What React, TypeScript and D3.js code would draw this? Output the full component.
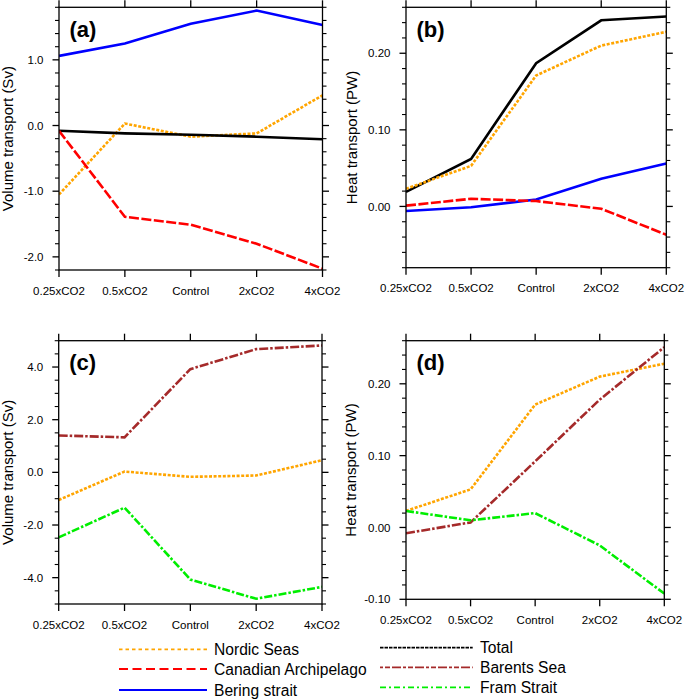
import React from "react";
import * as d3 from "d3";

const categories = ["0.25xCO2", "0.5xCO2", "Control", "2xCO2", "4xCO2"];

// Panel (a) volume transport (Sv)
const volNordic = [-1.05, 0.03, -0.17, -0.12, 0.46];
const volCanadian = [-0.08, -1.39, -1.51, -1.8, -2.18];
const volBering = [1.06, 1.25, 1.55, 1.75, 1.53];
const volTotal = [-0.08, -0.12, -0.14, -0.17, -0.21];

// Panel (b) heat transport (PW)
const heatNordic = [0.023, 0.053, 0.171, 0.21, 0.228];
const heatCanadian = [0.001, 0.01, 0.007, -0.003, -0.037];
const heatBering = [-0.006, -0.001, 0.009, 0.036, 0.056];
const heatTotal = [0.019, 0.062, 0.187, 0.243, 0.248];

// Panel (c) volume transport (Sv)
const volBarents = [1.4, 1.33, 3.92, 4.68, 4.82];
const volFram = [-2.47, -1.34, -4.07, -4.8, -4.35];

// Panel (d) heat transport (PW)
const heatBarents = [-0.008, 0.007, 0.092, 0.178, 0.251];
const heatFram = [0.023, 0.01, 0.02, -0.025, -0.092];

const ticksA = [-2, -1, 0, 1];
const ticksB = [0, 0.1, 0.2];
const ticksC = [-4, -2, 0, 2, 4];
const ticksD = [-0.1, 0, 0.1, 0.2];

const styles: Record<string, { color: string; dash: string; legendDash: string }> = {
  "Nordic Seas": { color: "#ffa500", dash: "3,1.6", legendDash: "3.5,3" },
  "Canadian Archipelago": { color: "#ff0000", dash: "10,2.5", legendDash: "9,4.5" },
  "Bering strait": { color: "#0000ff", dash: "none", legendDash: "none" },
  Total: { color: "#000000", dash: "none", legendDash: "3.5,1" },
  "Barents Sea": { color: "#a52a2a", dash: "9,2,2.5,2", legendDash: "3,2,5,2,9,2" },
  "Fram Strait": { color: "#00ee00", dash: "8,2,2.5,2", legendDash: "6,3,2,3" },
};

const FONT = "'Liberation Sans', Arial, Helvetica, sans-serif";

type Series = { name: string; values: number[] };

type PanelProps = {
  label: string;
  x0: number;
  x1: number;
  y0: number;
  y1: number;
  domain: [number, number];
  majors: number[];
  minorStep: number;
  fmt: (v: number) => string;
  title: string;
  titleX: number;
  series: Series[];
};

function Panel(p: PanelProps) {
  const x = d3.scalePoint<string>().domain(categories).range([p.x0, p.x1]);
  const y = d3.scaleLinear().domain(p.domain).range([p.y1, p.y0]);
  const minors = d3
    .range(Math.round((p.domain[1] - p.domain[0]) / p.minorStep) + 1)
    .map((i) => p.domain[0] + i * p.minorStep)
    .filter((v) => !p.majors.some((m) => Math.abs(m - v) < 1e-6));
  const line = d3
    .line<number>()
    .x((_, i) => x(categories[i]) as number)
    .y((d) => y(d));
  const yc = (p.y0 + p.y1) / 2;
  return (
    <g>
      <defs>
        <clipPath id={"clip" + p.label}>
          <rect x={p.x0} y={p.y0 - 2} width={p.x1 - p.x0} height={p.y1 - p.y0 + 4} />
        </clipPath>
      </defs>
      <g clipPath={`url(#clip${p.label})`}>
        {p.series.map((s) => (
          <path
            key={s.name}
            d={line(s.values) || ""}
            fill="none"
            stroke={styles[s.name].color}
            strokeWidth={2.6}
            strokeDasharray={styles[s.name].dash}
          />
        ))}
      </g>
      <rect x={p.x0} y={p.y0} width={p.x1 - p.x0} height={p.y1 - p.y0} fill="none" stroke="#000" strokeWidth={1.3} />
      {categories.map((c) => (
        <g key={c}>
          <line x1={x(c)} x2={x(c)} y1={p.y1} y2={p.y1 + 7} stroke="#000" strokeWidth={1.3} />
          <line x1={x(c)} x2={x(c)} y1={p.y0} y2={p.y0 - 7} stroke="#000" strokeWidth={1.3} />
          <text x={x(c)} y={p.y1 + 24.5} textAnchor="middle" fontSize={11.5} fontFamily={FONT}>
            {c}
          </text>
        </g>
      ))}
      {p.majors.map((v) => (
        <g key={"M" + v}>
          <line x1={p.x0 - 6.5} x2={p.x0} y1={y(v)} y2={y(v)} stroke="#000" strokeWidth={1.3} />
          <line x1={p.x1} x2={p.x1 + 6.5} y1={y(v)} y2={y(v)} stroke="#000" strokeWidth={1.3} />
          <text x={p.x0 - 15.5} y={y(v)} dy="0.36em" textAnchor="end" fontSize={11.5} fontFamily={FONT}>
            {p.fmt(v)}
          </text>
        </g>
      ))}
      {minors.map((v) => (
        <g key={"m" + v}>
          <line x1={p.x0 - 4} x2={p.x0} y1={y(v)} y2={y(v)} stroke="#000" strokeWidth={1.1} />
          <line x1={p.x1} x2={p.x1 + 4} y1={y(v)} y2={y(v)} stroke="#000" strokeWidth={1.1} />
        </g>
      ))}
      <text
        transform={`translate(${p.titleX},${yc}) rotate(-90)`}
        dy="0.36em"
        textAnchor="middle"
        fontSize={15}
        fontFamily={FONT}
      >
        {p.title}
      </text>
      <text x={p.x0 + 10.5} y={p.y0 + 29.5} fontSize={22} fontWeight="bold" fontFamily={FONT}>
        {`(${p.label})`}
      </text>
    </g>
  );
}

const legendLeft = ["Nordic Seas", "Canadian Archipelago", "Bering strait"];
const legendRight = ["Total", "Barents Sea", "Fram Strait"];

export default function App() {
  const f1 = (v: number) => v.toFixed(1);
  const f2 = (v: number) => v.toFixed(2);
  return (
    <svg
      width={685}
      height={700}
      style={{ position: "absolute", left: 0, top: 0, background: "#fff" }}
    >
      <rect width={685} height={700} fill="#fff" />
      <Panel
        label="a"
        x0={59}
        x1={322.5}
        y0={7.3}
        y1={270}
        domain={[-2.2, 1.8]}
        majors={ticksA}
        minorStep={0.2}
        fmt={f1}
        title="Volume transport (Sv)"
        titleX={8}
        series={[
          { name: "Bering strait", values: volBering },
          { name: "Nordic Seas", values: volNordic },
          { name: "Total", values: volTotal },
          { name: "Canadian Archipelago", values: volCanadian },
        ]}
      />
      <Panel
        label="b"
        x0={406}
        x1={666.3}
        y0={7.3}
        y1={267.7}
        domain={[-0.08, 0.26]}
        majors={ticksB}
        minorStep={0.02}
        fmt={f2}
        title="Heat transport (PW)"
        titleX={351.5}
        series={[
          { name: "Total", values: heatTotal },
          { name: "Nordic Seas", values: heatNordic },
          { name: "Bering strait", values: heatBering },
          { name: "Canadian Archipelago", values: heatCanadian },
        ]}
      />
      <Panel
        label="c"
        x0={58.7}
        x1={322}
        y0={340.7}
        y1={604}
        domain={[-5, 5]}
        majors={ticksC}
        minorStep={0.5}
        fmt={f1}
        title="Volume transport (Sv)"
        titleX={8}
        series={[
          { name: "Barents Sea", values: volBarents },
          { name: "Nordic Seas", values: volNordic },
          { name: "Fram Strait", values: volFram },
        ]}
      />
      <Panel
        label="d"
        x0={406}
        x1={664.3}
        y0={340.7}
        y1={599.3}
        domain={[-0.1, 0.26]}
        majors={ticksD}
        minorStep={0.02}
        fmt={f2}
        title="Heat transport (PW)"
        titleX={350.5}
        series={[
          { name: "Nordic Seas", values: heatNordic },
          { name: "Barents Sea", values: heatBarents },
          { name: "Fram Strait", values: heatFram },
        ]}
      />
      {legendLeft.map((n, i) => {
        const yy = [649.3, 669, 690][i];
        return (
          <g key={n}>
            <line x1={119} x2={207} y1={yy} y2={yy} stroke={styles[n].color} strokeWidth={1.8} strokeDasharray={styles[n].legendDash} />
            <text x={214} y={yy} dy="0.36em" fontSize={15.6} fontFamily={FONT}>
              {n}
            </text>
          </g>
        );
      })}
      {legendRight.map((n, i) => {
        const yy = [647.7, 667.3, 687.3][i];
        return (
          <g key={n}>
            <line x1={380} x2={472.7} y1={yy} y2={yy} stroke={styles[n].color} strokeWidth={1.8} strokeDasharray={styles[n].legendDash} />
            <text x={480} y={yy} dy="0.36em" fontSize={15.6} fontFamily={FONT}>
              {n}
            </text>
          </g>
        );
      })}
    </svg>
  );
}
